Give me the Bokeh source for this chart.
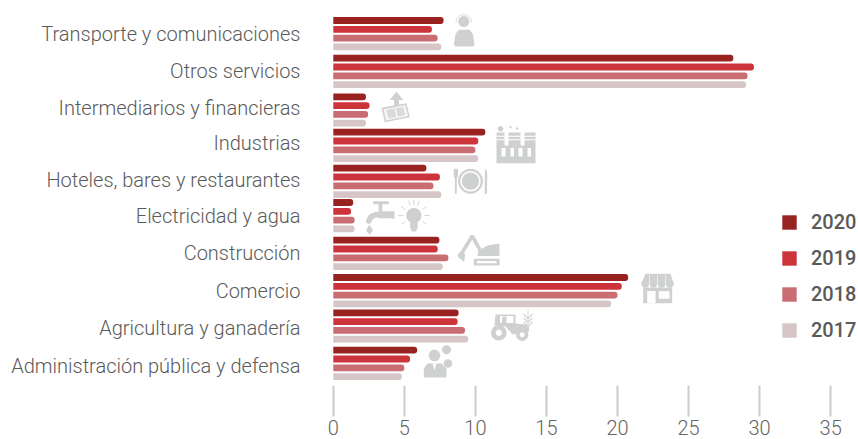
import math
from bokeh.plotting import figure
from bokeh.models import Range1d, FixedTicker, Legend, LegendItem
from bokeh.embed import file_html
from bokeh.resources import INLINE

categories = ["Transporte y comunicaciones", "Otros servicios", "Intermediarios y financieras",
              "Industrias", "Hoteles, bares y restaurantes", "Electricidad y agua",
              "Construcción", "Comercio", "Agricultura y ganadería",
              "Administración pública y defensa"]
years = ["2020", "2019", "2018", "2017"]
v2020 = [7.76, 28.15, 2.3, 10.7, 6.55, 1.4, 7.47, 20.75, 8.82, 5.9]
v2019 = [6.94, 29.6, 2.55, 10.2, 7.5, 1.25, 7.35, 20.3, 8.75, 5.4]
v2018 = [7.34, 29.15, 2.45, 10.0, 7.05, 1.5, 8.1, 20.0, 9.27, 5.0]
v2017 = [7.6, 29.05, 2.3, 10.2, 7.6, 1.5, 7.7, 19.55, 9.5, 4.82]
colors = ["#982220", "#cd333b", "#c96d73", "#d6c6c8"]
x_ticks = [0, 5, 10, 15, 20, 25, 30, 35]

# layout, in pixels of the picture
row_top = [20, 57.7, 96.3, 131.7, 167.7, 202, 239.7, 277, 312.3, 349.7]
label_y = [33, 70, 107, 142, 179, 215, 252, 290, 327, 365]
bar_step = 8.8
bar_h = 6.8
ZERO = 332.8
SCALE = 14.21
LEFT = 320

FONT = "Roboto Light"
TEXT = "#5a5a5a"

p = figure(width=858, height=439, output_backend="svg", toolbar_location=None,
           x_range=Range1d((LEFT - ZERO) / SCALE, (858 - ZERO) / SCALE),
           y_range=Range1d(416, 0),
           min_border_left=LEFT, min_border_right=0, min_border_top=0, min_border_bottom=23,
           outline_line_color=None)
p.grid.visible = False
p.background_fill_color = None
p.border_fill_color = None


def X(px):
    return (px - ZERO) / SCALE


GREY = "#cfd1d1"


def disc(cx, cy, r, n=28):
    return ([X(cx + r * math.cos(2 * math.pi * i / n)) for i in range(n)],
            [cy + r * math.sin(2 * math.pi * i / n) for i in range(n)])


def poly(*pts):
    return ([X(a) for a, _ in pts], [b for _, b in pts])


def rect(x0, y0, x1, y1):
    return poly((x0, y0), (x1, y0), (x1, y1), (x0, y1))


def fill(shapes, color=GREY):
    p.patches([s[0] for s in shapes], [s[1] for s in shapes], fill_color=color, line_color=None)


def lines(segs, width=1.0, color=GREY):
    p.multi_line([[X(a) for a, _ in s] for s in segs], [[b for _, b in s] for s in segs],
                 line_color=color, line_width=width, line_cap="round")


# person with headset
fill([disc(463.3, 21, 5.5),
      poly((453.3, 44), (455, 33.5), (458.3, 29.3), (469, 29.3), (472.3, 33.5), (474, 44), (472.5, 46), (455, 46))])
lines([[(463.3 + 7.8 * math.cos(math.radians(a)), 22 + 7.8 * math.sin(math.radians(a))) for a in range(180, 361, 15)]], 0.8)
# money
fill([poly((396, 91), (389.3, 99.5), (393.5, 99.5), (393.5, 106.5), (398.5, 106.5), (398.5, 99.5), (402.7, 99.5)),
      poly((381, 107.3), (406, 102.7), (409.3, 116.7), (384.3, 121.7))])
fill([poly((383, 108.8), (404.8, 104.6), (407.6, 115.4), (385.6, 120))], "#f4f4f4")
fill([poly((386, 109.6), (402.5, 106.4), (404.6, 114.6), (388, 118)), ], "#d9dada")
lines([[(395, 109), (396.5, 116)]], 1.2, "#ffffff")
# factory
fill([disc(500, 128.3, 2.8), disc(510, 126.7, 1.2), disc(516.7, 128, 1.2),
      rect(496, 132, 504, 146), rect(508, 132, 520, 146), rect(524, 132, 535, 146),
      rect(496, 145, 535, 162.7)])
fill([rect(496, 135.2, 535, 136.2), rect(496, 138.8, 535, 139.8),
      rect(501, 147.5, 505, 156), rect(510, 147.5, 513.5, 156),
      rect(518, 147.5, 522, 156), rect(527, 147.5, 530.5, 156)], "#ffffff")
# plate and cutlery
fill([disc(470, 180.7, 12.5)])
fill([disc(470, 180.7, 10.2)], "#ffffff")
fill([disc(470, 180.7, 8.6),
      poly((453.2, 168.3), (457.4, 168.3), (457.4, 176), (456.3, 178), (456.3, 193.3), (454.4, 193.3), (454.4, 178), (453.2, 176)),
      poly((484.6, 168.3), (486.6, 171), (486.6, 181), (486.4, 193.3), (484.2, 193.3), (484.2, 181))])
# tap
fill([rect(372.7, 200.8, 388.3, 203.8), rect(378.2, 203.5, 381.8, 211),
      rect(378, 210.8, 392, 217.8), rect(391.6, 210.8, 394, 218.2),
      poly((369, 224), (372, 229), (372, 231), (369, 234), (366, 231), (366, 229))])
lines([[(381, 214), (375, 214.3), (370.5, 216.3), (368.3, 220.5)]], 5.5)
# bulb
fill([disc(413.4, 215, 7.6), poly((409.6, 219), (417.2, 219), (417.2, 227), (415.5, 231), (411.3, 231), (409.6, 227))])
lines([[(413.4 + 10.8 * math.cos(math.radians(a)), 215 + 10.8 * math.sin(math.radians(a))),
        (413.4 + 15.2 * math.cos(math.radians(a)), 215 + 15.2 * math.sin(math.radians(a)))]
       for a in (180, 215, 250, 270, 290, 325, 360, 145, 35)], 0.9)
# excavator
fill([poly((478, 250), (487, 245), (499, 243), (499, 255.5), (477, 255.5)), rect(473.3, 258.3, 499, 265),
      disc(461, 255, 3.6), poly((459, 256), (464, 256), (464, 261), (462.5, 261))])
fill([rect(476.5, 260.6, 496, 262.8)], "#ffffff")
lines([[(481.7, 253.3), (471.7, 235.5), (462, 251.5)]], 3.6)
# store
fill([poly((645, 273.3), (670, 273.3), (673.4, 283.5), (640.6, 283.5)),
      disc(644.8, 283.4, 3.9), disc(652.9, 283.4, 3.9), disc(661.1, 283.4, 3.9), disc(669.3, 283.4, 3.9),
      rect(642.7, 287, 671.7, 302.7)])
fill([rect(646.7, 290.5, 655, 302.7), rect(658.3, 290.8, 669, 298.3),
      rect(648.6, 274.5, 649.2, 285), rect(656.7, 274.5, 657.3, 285), rect(664.8, 274.5, 665.4, 285)], "#ffffff")
# tractor
fill([disc(498.3, 332.3, 7.7), disc(521.7, 334.3, 6.1),
      poly((495, 314), (515, 314), (515, 323), (528.5, 324.5), (528.5, 331), (512, 334), (505, 326), (494, 325))])
fill([disc(498.3, 332.3, 3.1), disc(521.7, 334.3, 2.5),
      rect(499.5, 315.6, 513, 322.5)], "#ffffff")
fill([poly((502, 316), (506, 316), (506, 324), (501, 324))])
lines([[(527.5, 309.5), (527.5, 326)]], 1.0, "#d9dada")
lines([[(523.5, 314), (527.5, 318)], [(531.5, 314), (527.5, 318)], [(523.5, 318), (527.5, 322)],
       [(531.5, 318), (527.5, 322)], [(523.5, 322), (527.5, 326)], [(531.5, 322), (527.5, 326)]], 1.6, "#d9dada")
# official
fill([disc(434, 355, 5.8), disc(446, 349.3, 4.5), disc(447.5, 363, 4.3),
      poly((423.3, 368), (427, 363), (441, 363), (446, 368), (446, 377), (423.3, 377))])
fill([poly((432, 363), (436, 363), (434, 370))], "#ffffff")

# bars
series = [v2020, v2019, v2018, v2017]
rends = []
for i, (vals, col) in enumerate(zip(series, colors)):
    ys = [t + i * bar_step for t in row_top]
    r = p.hbar(y=ys, right=vals, left=0, height=bar_h, fill_color=col, line_color=None,
               border_radius=(0, 3, 3, 0))
    rends.append(r)

# axes
xa = p.xaxis[0]
xa.ticker = FixedTicker(ticks=x_ticks)
xa.axis_line_color = None
xa.major_tick_in = 31
xa.major_tick_out = 0
xa.minor_tick_line_color = None
xa.major_tick_line_color = "#cccccc"
xa.major_tick_line_width = 2
xa.major_label_text_font = FONT
xa.major_label_text_font_size = "20px"
xa.major_label_text_color = "#666666"
xa.major_label_standoff = 3

ya = p.yaxis[0]
ya.ticker = FixedTicker(ticks=label_y)
ya.major_label_overrides = {y: c for y, c in zip(label_y, categories)}
ya.axis_line_color = None
ya.major_tick_line_color = None
ya.minor_tick_line_color = None
ya.major_label_text_font = FONT
ya.major_label_text_font_size = "20px"
ya.major_label_text_color = TEXT
ya.major_label_standoff = 14

legend = Legend(items=[LegendItem(label=y, renderers=[r]) for y, r in zip(years, rends)],
                location=(780 - LEFT, 416 - 342), orientation="vertical",
                glyph_width=18, glyph_height=18, label_standoff=13, spacing=12,
                margin=0, padding=0, border_line_color=None, background_fill_color=None,
                background_fill_alpha=0, label_text_font="Roboto Medium", label_text_font_size="20px",
                label_text_color=TEXT, label_height=14)
p.add_layout(legend, "center")

open("out.html", "w").write(file_html(p, INLINE))
